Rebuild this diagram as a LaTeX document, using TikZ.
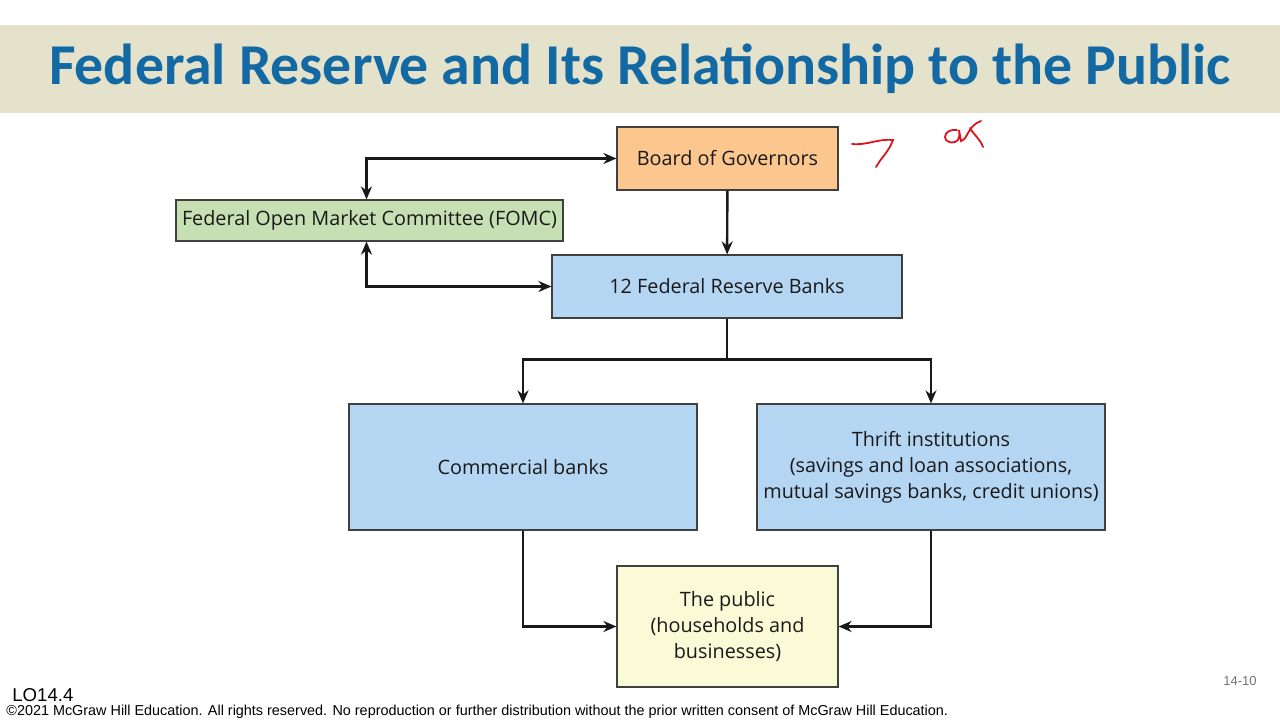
\documentclass[tikz,border=0pt]{standalone}
\usepackage{fontspec}
\setmainfont{Open Sans}
\newfontfamily\titlefont{Carlito}
\newfontfamily\footfont{Liberation Sans}
\usetikzlibrary{arrows.meta}

\definecolor{titleblue}{RGB}{19,105,164}
\definecolor{bandtan}{RGB}{229,226,203}
\definecolor{govorange}{RGB}{251,199,142}
\definecolor{fomcgreen}{RGB}{198,224,180}
\definecolor{bankblue}{RGB}{181,214,243}
\definecolor{pubyellow}{RGB}{251,250,215}
\definecolor{inkred}{RGB}{220,20,30}

\tikzset{
  fedbox/.style={draw=black!75, line width=0.6pt, inner sep=0pt, align=center,
    font=\fontsize{9.9}{13}\selectfont, text=black!90},
  link/.style={line width=1.2pt, black!90}
}

\begin{document}
\begin{tikzpicture}[x=0.5pt, y=-0.5pt, >={Stealth[length=6.5pt,width=5.5pt]}]
        % Page and title band
        \fill[white] (0,0) rectangle (1280,720);
        \useasboundingbox (0,0) rectangle (1280,720);
        \fill[bandtan] (0,25) rectangle (1280,113);
        \node[font=\titlefont\bfseries\fontsize{28.9}{32}\selectfont, text=titleblue] (title) at (640,69) {Federal Reserve and Its Relationship to the Public};

        % Boxes
        \node[fedbox, fill=govorange, minimum width=110.5pt, minimum height=31.5pt] (gov) at (727.5,158.5) {Board of Governors};
        \node[fedbox, fill=fomcgreen, minimum width=193.5pt, minimum height=20.5pt] (fomc) at (369.5,220.5) {Federal Open Market Committee (FOMC)};
        \node[fedbox, fill=bankblue, minimum width=175pt, minimum height=31.5pt] (frb) at (727,286.5) {12 Federal Reserve Banks};
        \node[fedbox, fill=bankblue, minimum width=174pt, minimum height=63pt] (comm) at (523,467) {Commercial banks};
        \node[fedbox, fill=bankblue, minimum width=174pt, minimum height=63pt] (thrift) at (931,467) {Thrift institutions\\(savings and loan associations,\\mutual savings banks, credit unions)};
        \node[fedbox, fill=pubyellow, minimum width=110.5pt, minimum height=60.5pt] (pub) at (727.5,626.5) {The public\\(households and\\businesses)};

        % Connectors
        \draw[link, <->] ([xshift=-1.5pt]fomc.north) |- (gov.west);
        \draw[link, <->] ([xshift=-1.5pt]fomc.south) |- (frb.west);
        \draw[link, ->] (gov) -- (frb);
        \draw[link, ->] (frb.south) -- ++(0,41) -| (comm.north);
        \draw[link, ->] (frb.south) -- ++(0,41) -| (thrift.north);
        \draw[link, ->] (comm.south) |- (pub.west);
        \draw[link, ->] (thrift.south) |- (pub.east);

        % Handwritten marks
        \draw[inkred, line width=0.9pt, line cap=round] (852,144) to[out=-5, in=175] (893,140) to[out=250, in=60] (876,167);
        \draw[inkred, line width=0.9pt, line cap=round] (957,130) to[out=170, in=90] (945,137) to[out=-90, in=200] (955,142) to[out=20, in=-80] (959,130) -- (961,141) to[out=20, in=-120] (968,133) to[out=60, in=200] (981,121);
        \draw[inkred, line width=0.9pt, line cap=round] (970,128) to[out=-60, in=110] (983,147);

        % Footer
        \node[anchor=west, font=\footfont\fontsize{9.3}{10}\selectfont, inner sep=0pt] (lo) at (12,695) {LO14.4};
        \node[anchor=west, font=\footfont\fontsize{7.2}{8}\selectfont, inner sep=0pt] (copy) at (6,712) {©2021 McGraw Hill Education. All rights reserved. No reproduction or further distribution without the prior written consent of McGraw Hill Education.};
        \node[font=\footfont\fontsize{6.5}{7}\selectfont, text=black!55] (pg) at (1240,681) {14-10};
\end{tikzpicture}
\end{document}
